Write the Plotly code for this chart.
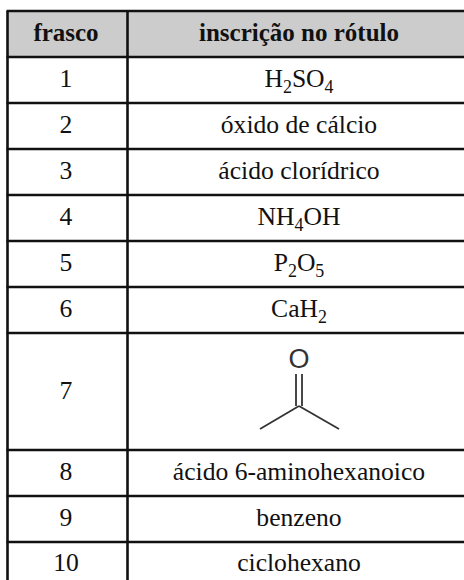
import plotly.graph_objects as go

header = ["frasco", "inscrição no rótulo"]
numbers = ["1", "2", "3", "4", "5", "6", "7", "8", "9", "10"]
labels = ["H<sub>2</sub>SO<sub>4</sub>", "óxido de cálcio", "ácido clorídrico", "NH<sub>4</sub>OH",
          "P<sub>2</sub>O<sub>5</sub>", "CaH<sub>2</sub>", "", "ácido 6-aminohexanoico", "benzeno", "ciclohexano"]
row_rules = [11, 57, 103, 149, 195, 241, 287, 333, 450, 496, 542, 590]

W, H = 464, 580
LEFT, MID = 7.5, 127.5
COL1, COL2 = 66, 299
FONT = "Liberation Serif"

fig = go.Figure()
shapes = [dict(type="rect", xref="x", yref="y", x0=LEFT, x1=W + 5, y0=row_rules[0], y1=row_rules[1],
               fillcolor="#cccccc", line_width=0, layer="below")]
for y in row_rules:
    shapes.append(dict(type="line", xref="x", yref="y", x0=LEFT - 1, x1=W + 5, y0=y, y1=y,
                       line=dict(color="#111111", width=2.6)))
for x in (LEFT, MID):
    shapes.append(dict(type="line", xref="x", yref="y", x0=x, x1=x, y0=row_rules[0], y1=H + 5,
                       line=dict(color="#111111", width=2.6)))

# acetone skeleton
skeleton = "#333333"
for x0, y0, x1, y1 in [(296, 374, 296, 406), (302, 374, 302, 406), (299, 406, 260, 429), (299, 406, 339, 429)]:
    shapes.append(dict(type="line", xref="x", yref="y", x0=x0, x1=x1, y0=y0, y1=y1,
                       line=dict(color=skeleton, width=1.8)))
fig.update_layout(shapes=shapes)

centers = [(row_rules[i] + row_rules[i + 1]) / 2 + 1 for i in range(len(row_rules) - 1)]
centers[-1] = 565

fig.add_trace(go.Scatter(x=[COL1, COL2], y=centers[:1] * 2, mode="text",
                         text=[f"<b>{t}</b>" for t in header], textposition="middle center",
                         textfont=dict(family=FONT, size=25, color="#111111"), hoverinfo="skip"))
fig.add_trace(go.Scatter(x=[COL1] * len(numbers), y=centers[1:], mode="text", text=numbers,
                         textposition="middle center",
                         textfont=dict(family=FONT, size=25.6, color="#111111"), hoverinfo="skip"))
fig.add_trace(go.Scatter(x=[COL2] * len(labels), y=centers[1:], mode="text", text=labels,
                         textposition="middle center",
                         textfont=dict(family=FONT, size=25.6, color="#111111"), hoverinfo="skip"))
fig.add_trace(go.Scatter(x=[299], y=[361], mode="text", text=["O"], textposition="middle center",
                         textfont=dict(family="Liberation Sans", size=27, color=skeleton), hoverinfo="skip"))

fig.update_layout(width=W, height=H, margin=dict(l=0, r=0, t=0, b=0), showlegend=False,
                  paper_bgcolor="white", plot_bgcolor="white",
                  xaxis=dict(range=[0, W], visible=False, fixedrange=True),
                  yaxis=dict(range=[H, 0], visible=False, fixedrange=True))
fig.write_html("out.html", config={"displayModeBar": False},
               post_script="document.body.style.margin='0';document.body.style.overflow='hidden';")
